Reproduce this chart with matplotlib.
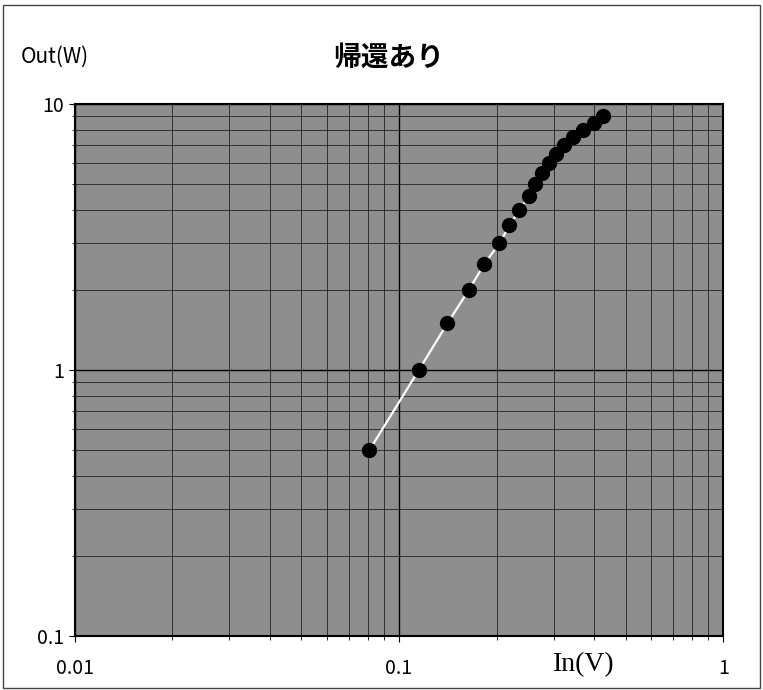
import numpy as np
import matplotlib
matplotlib.use("Agg")
import matplotlib.pyplot as plt
from matplotlib.patches import Rectangle

plt.rcParams['font.family'] = ['Noto Sans CJK JP', 'DejaVu Sans']

# input voltage vs output power
vin = [0.081, 0.115, 0.141, 0.164, 0.183, 0.204, 0.219, 0.235, 0.251,
       0.263, 0.276, 0.289, 0.305, 0.323, 0.345, 0.369, 0.398, 0.427]
pout = [0.5, 1.0, 1.5, 2.0, 2.5, 3.0, 3.5, 4.0, 4.5,
        5.0, 5.5, 6.0, 6.5, 7.0, 7.5, 8.0, 8.5, 9.0]
xticks = [0.01, 0.1, 1]
yticks = [0.1, 1, 10]

fig = plt.figure(figsize=(7.63, 6.9), dpi=100)
ax = fig.add_axes([0.098, 0.078, 0.850, 0.771])
ax.set_facecolor('#8e8e8e')
ax.set_xscale('log')
ax.set_yscale('log')
ax.set_xlim(0.01, 1)
ax.set_ylim(0.1, 10)

ax.grid(True, which='major', color='black', lw=1.0)
ax.grid(True, which='minor', color='#222222', lw=0.6)

ax.plot(vin, pout, color='white', lw=1.6, zorder=3)
ax.plot(vin, pout, 'o', color='black', ms=10, zorder=4)

ax.set_xticks(xticks)
ax.set_xticklabels(['0.01', '0.1', '1'])
ax.set_yticks(yticks)
ax.set_yticklabels(['0.1', '1', '10'])
ax.tick_params(axis='both', which='major', labelsize=14, length=4)
ax.tick_params(axis='x', which='major', pad=12)
ax.tick_params(axis='x', which='minor', length=3, direction='out')
ax.tick_params(axis='y', which='minor', length=2)
ax.tick_params(axis='y', which='major', pad=4)
for s in ax.spines.values():
    s.set_linewidth(1.5)

fig.text(0.027, 0.917, 'Out(W)', fontsize=15, va='center')
fig.text(0.51, 0.917, '帰還あり', fontsize=20, fontweight='bold', ha='center', va='center')
fig.text(0.765, 0.037, 'In(V)', fontsize=20, ha='center', va='center',
         family='Liberation Serif')

fig.patches.append(Rectangle((0.004, 0.003), 0.992, 0.99, transform=fig.transFigure,
                             fill=False, ec='#444444', lw=1.0))

fig.savefig('out.png', dpi=100)
